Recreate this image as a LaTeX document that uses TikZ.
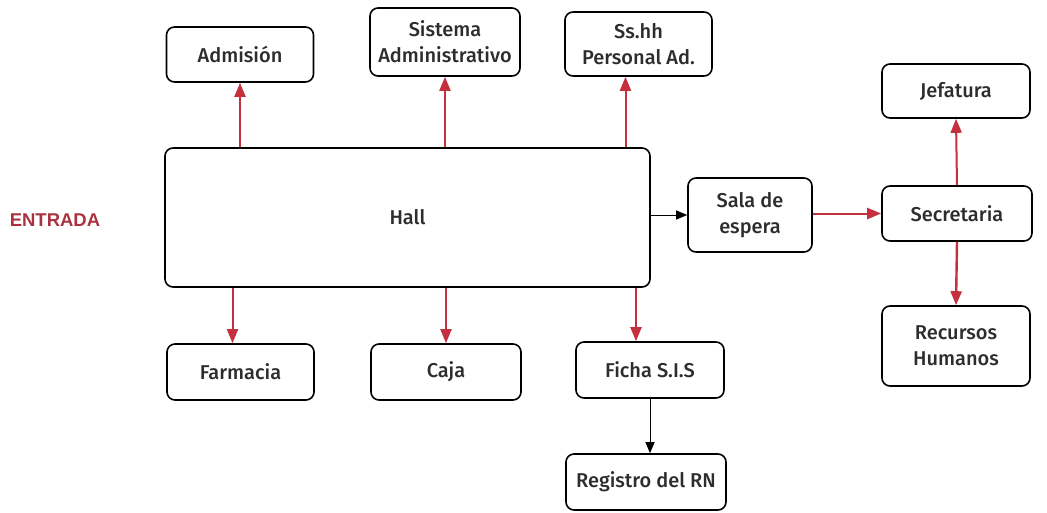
\documentclass[tikz,border=0pt]{standalone}
\usepackage{fontspec}
\setmainfont{Fira Sans}[UprightFont=* Medium]
\newfontfamily\entradafont{Liberation Sans}
\usetikzlibrary{arrows.meta}
\definecolor{flecha}{RGB}{196,48,62}
\definecolor{entrada}{RGB}{170,50,64}
\definecolor{texto}{RGB}{45,45,45}
\begin{document}
\begin{tikzpicture}[x=1pt,y=-1pt,
    caja/.style={draw,line width=1.6pt,rounded corners=8pt,align=center,text=texto,
      font=\fontsize{20}{26}\selectfont,inner sep=0pt},
    roja/.style={draw=flecha,line width=2pt,-{Triangle[length=14pt,width=11pt]},color=flecha},
    negra/.style={draw,line width=1pt,-{Triangle[length=11pt,width=9pt]}}]
		  \useasboundingbox (0,0) rectangle (1047,512);
		  \node[font=\entradafont\fontsize{18.5}{20}\selectfont\bfseries,text=entrada] (ent) at (55,220) {ENTRADA};
		  \node[caja,minimum width=485pt,minimum height=139pt] (hall) at (407.5,217.5) {Hall};
		  \node[caja,minimum width=147pt,minimum height=55pt] (adm) at (240,54.5) {Admisión};
		  \node[caja,minimum width=150pt,minimum height=68pt] (sis) at (445,42) {Sistema\\Administrativo};
		  \node[caja,minimum width=147pt,minimum height=64pt] (ssh) at (638.5,44) {Ss.hh\\Personal Ad.};
		  \node[caja,minimum width=148pt,minimum height=54pt] (jef) at (956,91) {Jefatura};
		  \node[caja,minimum width=124pt,minimum height=74pt] (sala) at (750,215) {Sala de\\espera};
		  \node[caja,minimum width=150pt,minimum height=55pt] (sec) at (957,213.5) {Secretaria};
		  \node[caja,minimum width=148pt,minimum height=80pt] (rrhh) at (956,346) {Recursos\\Humanos};
		  \node[caja,minimum width=147pt,minimum height=56pt] (farm) at (240.5,372) {Farmacia};
		  \node[caja,minimum width=150pt,minimum height=56pt] (caj) at (446,372) {Caja};
		  \node[caja,minimum width=148pt,minimum height=56pt] (fic) at (650,370) {Ficha S.I.S};
		  \node[caja,minimum width=160pt,minimum height=56pt] (reg) at (646,482) {Registro del RN};
		  % flechas hacia arriba
		  \draw[roja] (hall.north -| adm.south) -- (adm.south);
		  \draw[roja] (hall.north -| sis.south) -- (sis.south);
		  \draw[roja] (hall.north -| ssh.south) ++(-13,0) coordinate (sshb) -- (sshb |- ssh.south);
		  % flechas hacia abajo
		  \draw[roja] ([xshift=-8pt]hall.south -| farm.north) coordinate (farmb) -- (farmb |- farm.north);
		  \draw[roja] (hall.south -| caj.north) -- (caj.north);
		  \draw[roja] ([xshift=-14pt]hall.south -| fic.north) coordinate (ficb) -- (ficb |- fic.north);
		  \draw[negra] (fic.south) -- (fic.south |- reg.north);
		  % derecha
		  \draw[negra] (hall.east |- sala.west) -- (sala.west);
		  \draw[roja] (sala.east |- sec.west) -- (sec.west);
		  \draw[roja] (sec.north) -- (jef.south);
		  \draw[roja,line width=2.4pt] (sec.south) -- (rrhh.north);
		\end{tikzpicture}
\end{document}
